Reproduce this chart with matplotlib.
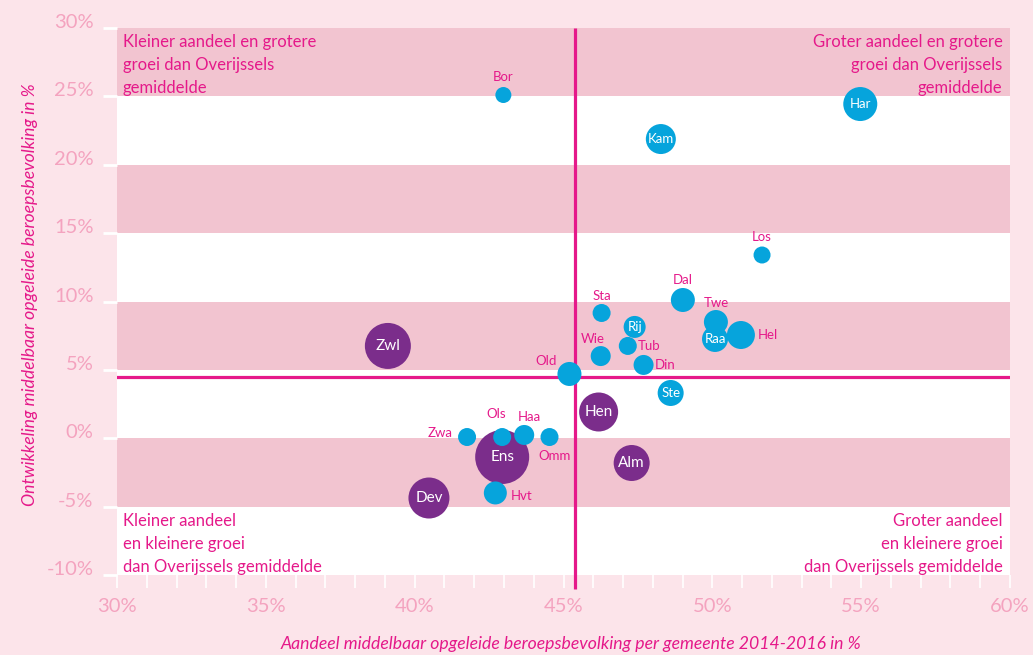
import matplotlib.pyplot as plt

# --- DATA ---
gemeenten = ['Bor', 'Kam', 'Har', 'Los', 'Dal', 'Sta', 'Twe', 'Raa', 'Hel', 'Rij',
             'Tub', 'Wie', 'Din', 'Old', 'Ste', 'Zwl', 'Hen', 'Alm', 'Ens', 'Dev',
             'Zwa', 'Ols', 'Haa', 'Omm', 'Hvt']
aandeel = [42.98, 48.27, 54.97, 51.67, 49.01, 46.28, 50.12, 50.09, 50.96, 47.39,
           47.16, 46.25, 47.69, 45.20, 48.60, 39.10, 46.18, 47.29, 42.94, 40.48,
           41.76, 42.94, 43.68, 44.53, 42.71]
groei = [25.10, 21.88, 24.44, 13.40, 10.11, 9.16, 8.50, 7.26, 7.55, 8.14,
         6.75, 6.01, 5.36, 4.70, 3.31, 6.75, 1.92, -1.81, -1.37, -4.37,
         0.09, 0.09, 0.24, 0.09, -4.00]
grootte = [8, 15, 17, 8.5, 12, 9, 12, 13, 14, 11,
           9, 10, 10, 12, 13, 23, 19.5, 18, 27, 20.5,
           9, 9, 10, 9, 11.5]
stad = [False, False, False, False, False, False, False, False, False, False,
        False, False, False, False, False, True, True, True, True, True,
        False, False, False, False, False]
gem_aandeel = 45.4
gem_groei = 4.5

x_ticks = [30, 35, 40, 45, 50, 55, 60]
y_ticks = [-10, -5, 0, 5, 10, 15, 20, 25, 30]

# --- STYLE ---
BG = '#fce4ea'
BAND = '#f2c4d0'
MAGENTA = '#e5198a'
TICKPINK = '#f4a3bf'
BLUE = '#06a4dc'
PURPLE = '#7b2d8b'
FONT = 'Lato'

# labels outside the bubble: offset in points (dx, dy), ha
label_offsets = {
    'Bor': (0, 13, 'center'), 'Los': (0, 13, 'center'), 'Dal': (0, 14.5, 'center'),
    'Sta': (0, 12.5, 'center'), 'Twe': (0, 13.5, 'center'), 'Hel': (12, 0, 'left'),
    'Tub': (7, 0, 'left'), 'Wie': (-6, 12, 'center'), 'Din': (8, 0, 'left'),
    'Old': (-17, 9.5, 'center'), 'Zwa': (-19.5, 3, 'center'), 'Ols': (-4, 16.5, 'center'),
    'Haa': (4, 13, 'center'), 'Omm': (3.5, -14, 'center'), 'Hvt': (11, -2, 'left'),
}

plt.rcParams['font.family'] = [FONT, 'DejaVu Sans']

fig = plt.figure(figsize=(10.33, 6.55), dpi=100, facecolor=BG)
ax = fig.add_axes([117 / 1033, 80 / 655, 893 / 1033, 547 / 655])
ax.set_facecolor('white')
ax.set_xlim(30, 60)
ax.set_ylim(-10, 30)

for lo in [25, 15, 5, -5]:
    ax.axhspan(lo, lo + 5, color=BAND, lw=0, zorder=0)

for s in ax.spines.values():
    s.set_visible(False)

# average lines
ax.plot([gem_aandeel, gem_aandeel], [30, -11], color=MAGENTA, lw=2.3,
        clip_on=False, zorder=2, solid_capstyle='butt')
ax.axhline(gem_groei, color=MAGENTA, lw=2.3, zorder=2)

# bubbles
for i, g in enumerate(gemeenten):
    r = grootte[i]
    col = PURPLE if stad[i] else BLUE
    z = 3 if stad[i] else 4
    ax.scatter(aandeel[i], groei[i], s=(1.44 * r) ** 2, color=col,
               edgecolors='none', zorder=z)
    if g in label_offsets:
        dx, dy, ha = label_offsets[g]
        ax.annotate(g, (aandeel[i], groei[i]), xytext=(dx, dy),
                    textcoords='offset points', ha=ha, va='center',
                    fontsize=9.5, color=MAGENTA, zorder=6)
    else:
        fs = 11 if stad[i] else 9.5
        ax.text(aandeel[i], groei[i], g, ha='center', va='center',
                fontsize=fs, color='white', zorder=6)

# quadrant texts
qkw = dict(fontsize=12, color=MAGENTA, linespacing=1.55, zorder=7)
ax.text(30.2, 29.55, 'Kleiner aandeel en grotere\ngroei dan Overijssels\ngemiddelde',
        ha='left', va='top', **qkw)
ax.text(59.75, 29.55, 'Groter aandeel en grotere\ngroei dan Overijssels\ngemiddelde',
        ha='right', va='top', multialignment='right', **qkw)
ax.text(30.2, -5.45, 'Kleiner aandeel\nen kleinere groei\ndan Overijssels gemiddelde',
        ha='left', va='top', **qkw)
ax.text(59.75, -5.45, 'Groter aandeel\nen kleinere groei\ndan Overijssels gemiddelde',
        ha='right', va='top', multialignment='right', **qkw)

# ticks
ax.set_xticks(x_ticks)
ax.set_xticklabels([f'{t}%' for t in x_ticks])
ax.set_xticks(range(30, 61), minor=True)
ax.set_yticks(y_ticks)
ax.set_yticklabels([f'{t}%' for t in y_ticks])
ax.tick_params(axis='x', which='both', length=9.5, width=1.2, color='white',
               labelsize=14.5, labelcolor=TICKPINK, pad=7)
ax.tick_params(axis='y', length=10, width=2, color='white',
               labelsize=14.5, labelcolor=TICKPINK, pad=7)
for t in ax.get_yticklabels():
    t.set_verticalalignment('baseline')

ax.set_xlabel('Aandeel middelbaar opgeleide beroepsbevolking per gemeente 2014-2016 in %',
              fontsize=12.7, style='italic', color=MAGENTA)
ax.set_ylabel('Ontwikkeling middelbaar opgeleide beroepsbevolking in %',
              fontsize=12.7, style='italic', color=MAGENTA)
ax.yaxis.set_label_coords(-0.088, 0.512)
ax.xaxis.set_label_coords(0.508, -0.112)

fig.savefig('out.png', dpi=100, facecolor=BG)
